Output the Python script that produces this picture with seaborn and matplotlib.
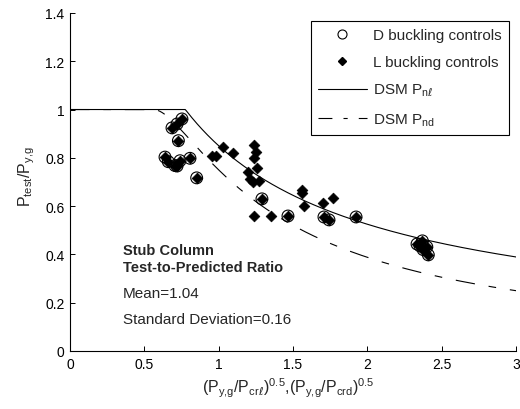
import numpy as np
import pandas as pd
import seaborn as sns
import matplotlib
matplotlib.use("Agg")
import matplotlib.pyplot as plt
from matplotlib.lines import Line2D

sns.set_style("ticks")
plt.rcParams["font.family"] = ["Liberation Sans", "DejaVu Sans"]
plt.rcParams["mathtext.fontset"] = "custom"
plt.rcParams["mathtext.rm"] = "Liberation Sans"
plt.rcParams["mathtext.it"] = "Liberation Sans"
plt.rcParams["mathtext.bf"] = "Liberation Sans:bold"
plt.rcParams["mathtext.sf"] = "DejaVu Sans:italic"
plt.rcParams["lines.scale_dashes"] = False

# Stub column tests: slenderness and normalised capacity
d_slenderness = [0.686, 0.720, 0.753, 0.729, 0.639, 0.661, 0.706, 0.740, 0.720,
                 0.807, 0.852, 1.291, 1.466, 1.708, 1.742, 1.924,
                 2.334, 2.354, 2.370, 2.375, 2.400, 2.410]
d_ratio = [0.924, 0.940, 0.961, 0.871, 0.803, 0.784, 0.768, 0.788, 0.766,
           0.798, 0.717, 0.630, 0.559, 0.555, 0.543, 0.555,
           0.443, 0.435, 0.456, 0.420, 0.431, 0.398]

l_slenderness = [0.953, 0.982, 1.030, 1.097, 1.238, 1.251, 1.238, 1.258, 1.197,
                 1.210, 1.231, 1.271, 1.238, 1.352, 1.560, 1.560, 1.574, 1.700,
                 1.770]
l_ratio = [0.806, 0.809, 0.845, 0.820, 0.853, 0.824, 0.798, 0.758, 0.741,
           0.712, 0.700, 0.704, 0.559, 0.559, 0.667, 0.655, 0.600, 0.613,
           0.634]

mean_ratio = 1.04
std_ratio = 0.16

# Direct Strength Method design curves
lam = np.linspace(0.0, 3.0, 601)
safe = np.maximum(lam, 1e-9)
p_nl = np.where(lam <= 0.776, 1.0,
                (1 - 0.15 * safe ** -0.8) * safe ** -0.8)
p_nd = np.where(lam <= 0.561, 1.0,
                (1 - 0.25 * safe ** -1.2) * safe ** -1.2)

curves = pd.DataFrame({"lam": lam, "pnl": p_nl, "pnd": p_nd})
all_pts = pd.DataFrame({"x": d_slenderness + l_slenderness,
                        "y": d_ratio + l_ratio})
d_pts = pd.DataFrame({"x": d_slenderness, "y": d_ratio})

fig = plt.figure(figsize=(5.2, 4.1), dpi=100)
ax = fig.add_axes([0.1346, 0.1415, 0.8578, 0.8245])

sns.lineplot(data=curves, x="lam", y="pnl", ax=ax, color="black",
             linewidth=0.8, zorder=2)
pnd_line = sns.lineplot(data=curves, x="lam", y="pnd", ax=ax, color="black",
                        linewidth=0.8, zorder=2).lines[-1]
pnd_line.set_dashes([14, 10, 5.5, 10])

sns.scatterplot(data=all_pts, x="x", y="y", ax=ax, marker="D", s=30,
                color="black", edgecolor="black", linewidth=0.5, zorder=3)
sns.scatterplot(data=d_pts, x="x", y="y", ax=ax, marker="o", s=72,
                facecolor="none", edgecolor="black", linewidth=0.8, zorder=4)

ax.set_xlim(0, 3)
ax.set_ylim(0, 1.4)
ax.set_xticks([0, 0.5, 1, 1.5, 2, 2.5, 3])
ax.set_xticklabels(["0", "0.5", "1", "1.5", "2", "2.5", "3"])
ax.set_yticks([0, 0.2, 0.4, 0.6, 0.8, 1.0, 1.2, 1.4])
ax.set_yticklabels(["0", "0.2", "0.4", "0.6", "0.8", "1", "1.2", "1.4"])
ax.tick_params(direction="in", length=3.5, width=0.7, labelsize=10,
               colors="black", pad=4)
sns.despine(ax=ax)
for s in ("left", "bottom"):
    ax.spines[s].set_linewidth(0.8)
    ax.spines[s].set_color("black")

ax.set_xlabel(r"$(\mathrm{P}_{\mathrm{y{,}g}}/\mathrm{P}_{\mathrm{cr}\mathsf{\ell}})^{0.5}$,"
              r"$(\mathrm{P}_{\mathrm{y{,}g}}/\mathrm{P}_{\mathrm{crd}})^{0.5}$",
              fontsize=11.5)
ax.set_ylabel(r"$\mathrm{P}_{\mathrm{test}}/\mathrm{P}_{\mathrm{y{,}g}}$",
              fontsize=11.5)
ax.xaxis.set_label_coords(0.49, -0.074)
ax.yaxis.set_label_coords(-0.075, 0.52)

ax.text(0.357, 0.418, "Stub Column", fontsize=10.5, fontweight="bold",
        va="center", ha="left")
ax.text(0.357, 0.348, "Test-to-Predicted Ratio", fontsize=10.5,
        fontweight="bold", va="center", ha="left")
ax.text(0.357, 0.240, f"Mean={mean_ratio:.2f}", fontsize=11,
        va="center", ha="left")
ax.text(0.357, 0.133, f"Standard Deviation={std_ratio:.2f}", fontsize=11,
        va="center", ha="left")

handles = [
    Line2D([], [], marker="o", linestyle="none", markerfacecolor="none",
           markeredgecolor="black", markersize=6.5, markeredgewidth=0.8),
    Line2D([], [], marker="D", linestyle="none", color="black",
           markersize=4.5),
    Line2D([], [], color="black", linewidth=0.8),
    Line2D([], [], color="black", linewidth=0.8, dashes=[10, 8, 3, 8]),
]
labels = ["D buckling controls", "L buckling controls",
          r"DSM P$_{\mathrm{n}\mathsf{\ell}}$", r"DSM P$_{\mathrm{nd}}$"]
leg = ax.legend(handles, labels, loc="upper right",
                bbox_to_anchor=(0.984, 0.976), borderaxespad=0,
                fontsize=11, frameon=True, fancybox=False,
                handlelength=3.2, handletextpad=0.45, labelspacing=0.85,
                borderpad=0.45)
leg.get_frame().set_edgecolor("black")
leg.get_frame().set_linewidth(0.8)
leg.get_frame().set_alpha(1)

fig.savefig("out.png", dpi=100)
